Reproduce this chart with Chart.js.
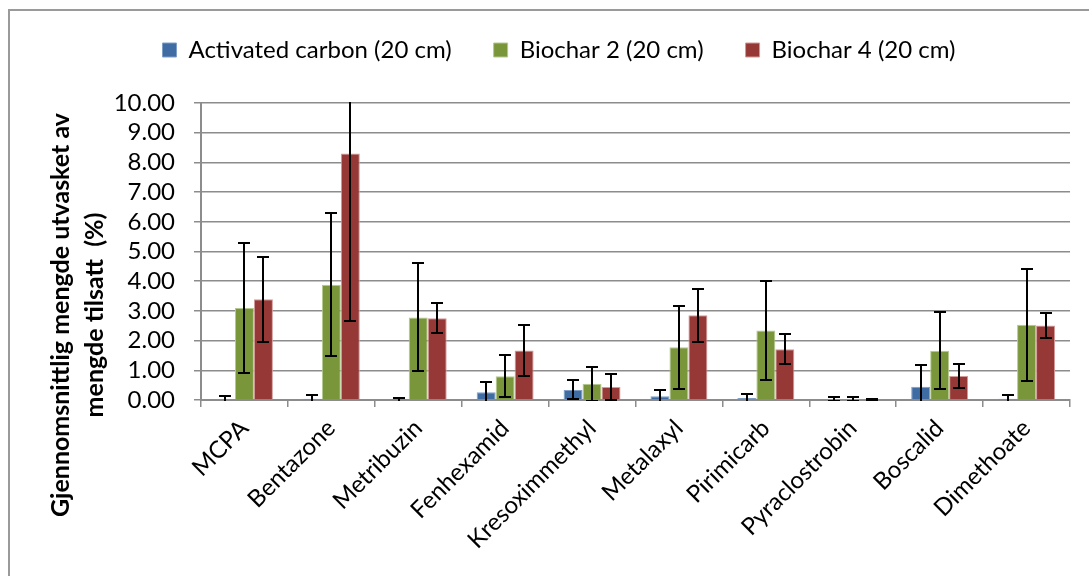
<!DOCTYPE html>
<html>
<head>
<meta charset="utf-8">
<script src="https://cdn.jsdelivr.net/npm/chart.js@4.4.1/dist/chart.umd.min.js"></script>
<style>
    body { margin: 0; background: #fff; }
    #wrap { position: relative; width: 1089px; height: 576px; overflow: hidden; }
    #ramme { position: absolute; left: 8px; top: 9px; width: 1200px; height: 700px; border: 2px solid #9a9a9a; box-sizing: border-box; }
    canvas { position: absolute; left: 0; top: 0; }
</style>
</head>
<body>
<div id="wrap">
    <div id="ramme"></div>
    <canvas id="grafikk" width="1089" height="576"></canvas>
</div>
<script>
const kategorier = ['MCPA', 'Bentazone', 'Metribuzin', 'Fenhexamid', 'Kresoximmethyl', 'Metalaxyl', 'Pirimicarb', 'Pyraclostrobin', 'Boscalid', 'Dimethoate'];

const aktivertKull = [0.03, 0.04, 0.01, 0.26, 0.34, 0.13, 0.07, 0.03, 0.45, 0.04];
const aktivertKullFeil = [0.10, 0.12, 0.07, 0.35, 0.32, 0.21, 0.14, 0.08, 0.73, 0.12];

const biokull2 = [3.10, 3.88, 2.78, 0.80, 0.55, 1.78, 2.34, 0.03, 1.66, 2.53];
const biokull2Feil = [2.20, 2.40, 1.82, 0.71, 0.57, 1.40, 1.67, 0.07, 1.29, 1.88];

const biokull4 = [3.39, 8.30, 2.75, 1.67, 0.44, 2.85, 1.71, 0.02, 0.81, 2.51];
const biokull4Feil = [1.44, 5.63, 0.51, 0.87, 0.45, 0.90, 0.51, 0.01, 0.41, 0.43];

const yTittel = ['Gjennomsnittlig mengde utvasket av', 'mengde tilsatt  (%)'];

const feilSett = [aktivertKullFeil, biokull2Feil, biokull4Feil];
const font = 'Lato';

// feilstolper tegnes etter søylene, klippet til plottområdet
const feilstolper = {
    id: 'feilstolper',
    afterDatasetsDraw(chart) {
        const ctx = chart.ctx;
        const area = chart.chartArea;
        const y = chart.scales.y;
        ctx.save();
        ctx.beginPath();
        ctx.rect(area.left, area.top - 1, area.right - area.left, area.bottom - area.top + 2);
        ctx.clip();
        ctx.strokeStyle = '#000';
        ctx.lineWidth = 2;
        chart.data.datasets.forEach((ds, i) => {
            const meta = chart.getDatasetMeta(i);
            meta.data.forEach((bar, j) => {
                const v = ds.data[j];
                const e = feilSett[i][j];
                const yo = Math.round(y.getPixelForValue(v + e));
                const yn = Math.round(y.getPixelForValue(v - e));
                const x = Math.round(bar.x);
                ctx.beginPath();
                ctx.moveTo(x, yo);
                ctx.lineTo(x, yn);
                ctx.moveTo(x - 6, yo);
                ctx.lineTo(x + 6, yo);
                ctx.moveTo(x - 6, yn);
                ctx.lineTo(x + 6, yn);
                ctx.stroke();
            });
        });
        ctx.restore();
    }
};

// fast høyde på forklaringen så plottområdet starter på rett sted
const forklaringHoyde = {
    id: 'forklaringHoyde',
    beforeInit(chart) {
        const fit = chart.legend.fit;
        chart.legend.fit = function () {
            fit.bind(chart.legend)();
            this.height = 107;
        };
    }
};

const aksetittel = {
    id: 'aksetittel',
    afterDraw(chart) {
        const ctx = chart.ctx;
        const pos = [[61, 315], [95, 315]];
        yTittel.forEach((linje, i) => {
            ctx.save();
            ctx.fillStyle = '#000';
            ctx.font = 'bold 25px ' + font;
            ctx.textAlign = 'center';
            ctx.textBaseline = 'middle';
            ctx.translate(pos[i][0], pos[i][1]);
            ctx.rotate(-Math.PI / 2);
            ctx.fillText(linje, 0, 0);
            ctx.restore();
        });
    }
};

Chart.defaults.font.family = font;
Chart.defaults.font.size = 24;
Chart.defaults.color = '#000';

new Chart(document.getElementById('grafikk'), {
    type: 'bar',
    data: {
        labels: kategorier,
        datasets: [{
            label: 'Activated carbon (20 cm)',
            data: aktivertKull,
            backgroundColor: '#3f6ca3',
            borderColor: '#7f9fc8',
            borderWidth: 1
        }, {
            label: 'Biochar 2 (20 cm)',
            data: biokull2,
            backgroundColor: '#7a963b',
            borderColor: '#b5c98e',
            borderWidth: 1
        }, {
            label: 'Biochar 4 (20 cm)',
            data: biokull4,
            backgroundColor: '#963836',
            borderColor: '#d29a99',
            borderWidth: 1
        }]
    },
    options: {
        responsive: false,
        animation: false,
        layout: { padding: { left: 48, right: 19, top: -4, bottom: 0 } },
        datasets: {
            bar: { barPercentage: 1, categoryPercentage: 0.655 }
        },
        plugins: {
            legend: {
                position: 'top',
                labels: { boxWidth: 14, boxHeight: 14, padding: 42, font: { size: 24 } }
            },
            tooltip: { enabled: false }
        },
        scales: {
            x: {
                grid: { offset: true, drawOnChartArea: false, tickLength: 7, color: '#8c8c8c', lineWidth: 1.5 },
                border: { color: '#8c8c8c', width: 2 },
                ticks: { maxRotation: 45, minRotation: 45, autoSkip: false, padding: 7 },
                afterFit(scale) { scale.height = 176; }
            },
            y: {
                min: 0,
                max: 10,
                grid: { color: '#8c8c8c', lineWidth: 1.5, tickLength: 7 },
                border: { color: '#8c8c8c', width: 2 },
                ticks: { stepSize: 1, autoSkip: false, padding: 19, callback: v => v.toFixed(2) },
                afterFit(scale) { scale.width = 153; }
            }
        }
    },
    plugins: [feilstolper, forklaringHoyde, aksetittel]
});
</script>
</body>
</html>
